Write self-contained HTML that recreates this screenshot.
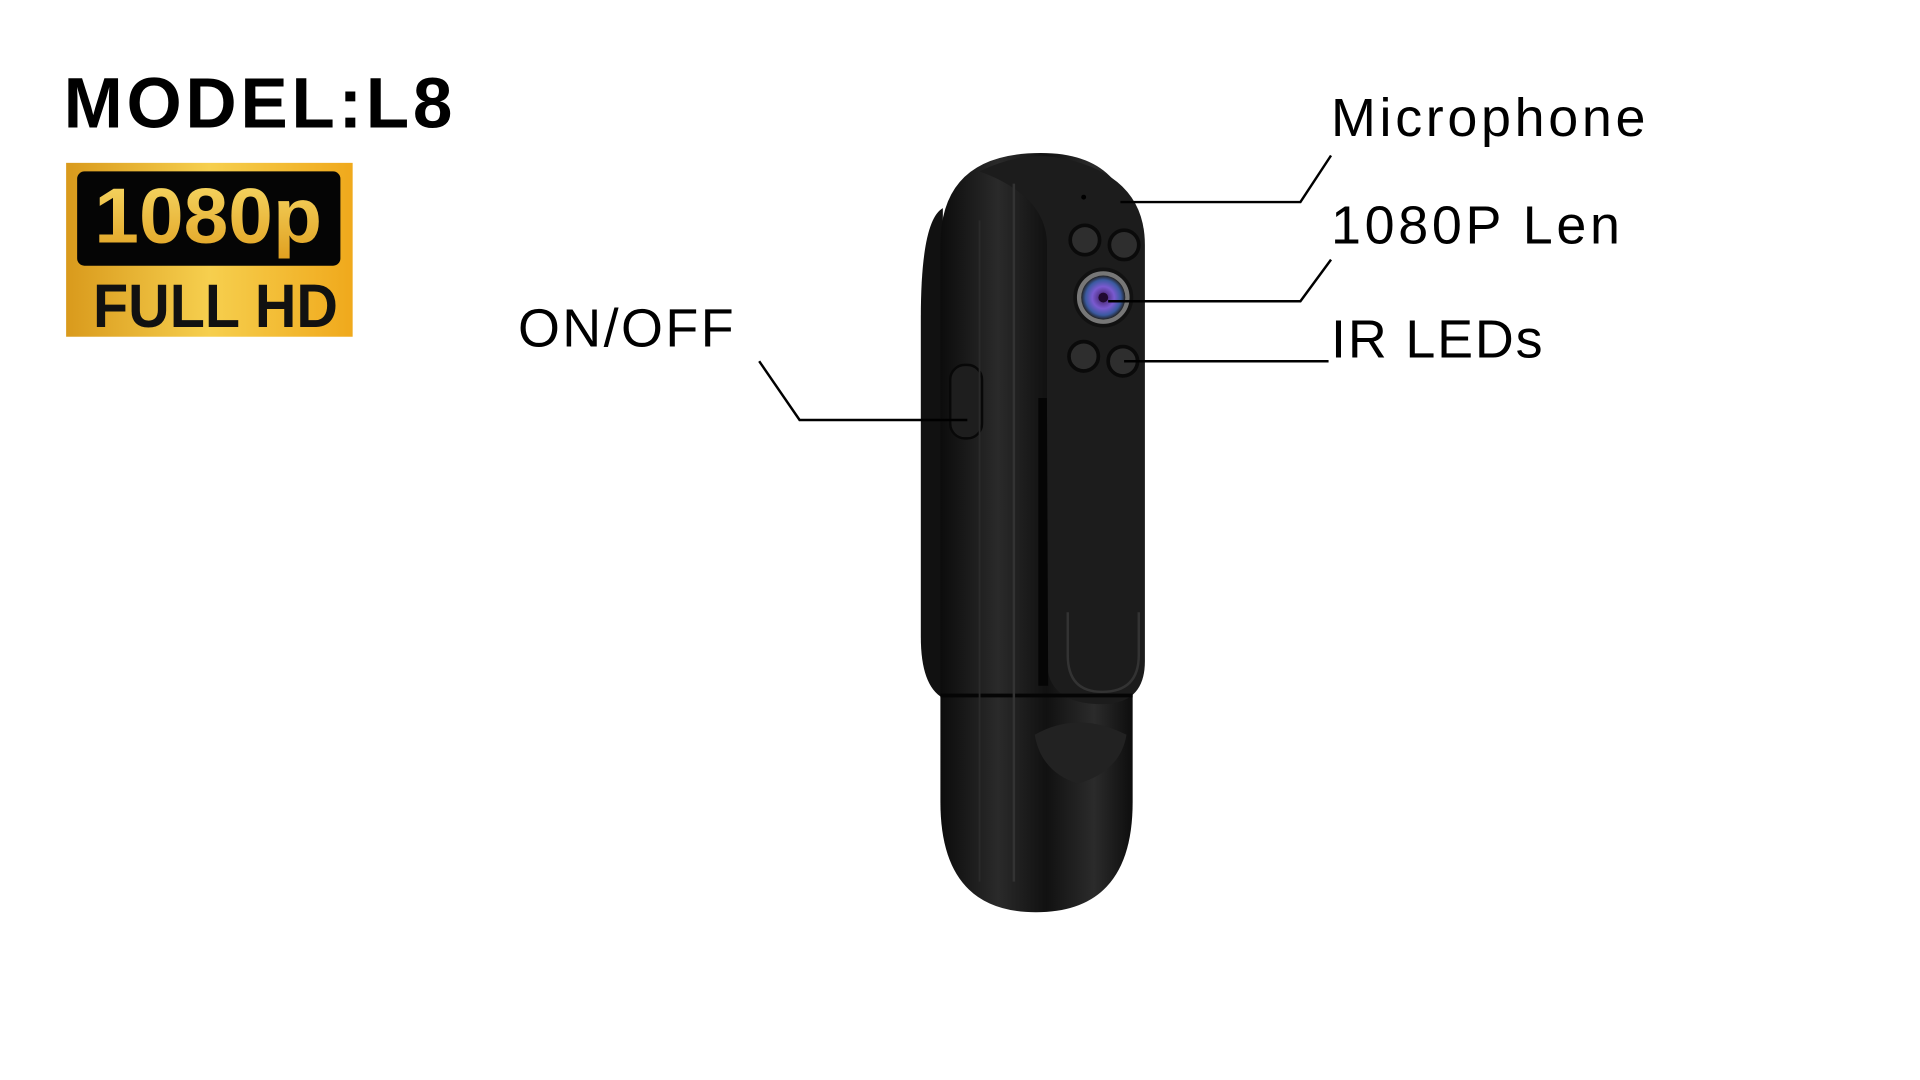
<!DOCTYPE html>
<html><head><meta charset="utf-8"><style>
html,body{margin:0;padding:0;background:#fff;width:1920px;height:1080px;overflow:hidden}
svg{display:block}
text{font-family:"Liberation Sans","DejaVu Sans",sans-serif}
</style></head><body>
<svg width="1920" height="1080" viewBox="0 0 1568 882" preserveAspectRatio="none">
<defs>
<linearGradient id="gold" x1="0" y1="0" x2="1" y2="0">
<stop offset="0" stop-color="#d99a1c"/><stop offset="0.5" stop-color="#f6cf4e"/><stop offset="1" stop-color="#f0a91c"/>
</linearGradient>
<linearGradient id="goldt" x1="0" y1="0" x2="0" y2="1">
<stop offset="0" stop-color="#f8dc6a"/><stop offset="1" stop-color="#e0a020"/>
</linearGradient>
<linearGradient id="body" x1="0" y1="0" x2="1" y2="0">
<stop offset="0" stop-color="#0c0c0c"/><stop offset="0.3" stop-color="#2a2a2a"/><stop offset="0.55" stop-color="#111"/><stop offset="0.8" stop-color="#2b2b2b"/><stop offset="1" stop-color="#0d0d0d"/>
</linearGradient>
<radialGradient id="lens" cx="0.5" cy="0.5" r="0.5">
<stop offset="0" stop-color="#3a1a5a"/><stop offset="0.5" stop-color="#7a5ad0"/><stop offset="0.8" stop-color="#3a5aa0"/><stop offset="1" stop-color="#222"/>
</radialGradient>
</defs>
<text x="52" y="104" font-size="58" font-weight="bold" letter-spacing="3" fill="#000">MODEL:L8</text>
<rect x="54" y="133" width="234" height="142" fill="url(#gold)"/>
<rect x="63" y="140" width="215" height="77" rx="6" fill="#050505"/>
<text x="170" y="198" font-size="64" font-weight="bold" fill="url(#goldt)" text-anchor="middle" textLength="186" lengthAdjust="spacingAndGlyphs">1080p</text>
<text x="176" y="267" font-size="50" font-weight="bold" fill="#111" text-anchor="middle" textLength="200" lengthAdjust="spacingAndGlyphs">FULL HD</text>
<path d="M770 170 Q752 180 752 260 L752 520 Q752 560 770 570 Z" fill="#111"/>
<path d="M768 200 Q768 125 850 125 Q925 125 925 200 L925 655 Q925 745 846 745 Q768 745 768 655 Z" fill="url(#body)"/>
<path d="M800 140 Q830 125 860 128 Q935 140 935 200 L935 540 Q935 575 900 575 Q855 575 855 540 L855 200 Q855 160 800 140Z" fill="#1c1c1c"/>
<path d="M855 325 L848 325 L848 560 L856 560Z" fill="#050505"/>
<path d="M872 500 L872 535 Q872 565 900 565 Q930 565 930 535 L930 500" stroke="#333" stroke-width="2" fill="none"/>
<line x1="768" y1="568" x2="925" y2="568" stroke="#050505" stroke-width="3"/>
<path d="M845 600 Q880 580 920 600 Q915 630 880 640 Q850 630 845 600Z" fill="#222"/>
<rect x="776" y="298" width="26" height="60" rx="12" fill="#1e1e1e" stroke="#080808" stroke-width="2"/>
<line x1="828" y1="150" x2="828" y2="720" stroke="#333" stroke-width="2"/>
<line x1="800" y1="180" x2="800" y2="720" stroke="#2a2a2a" stroke-width="1.5"/>
<circle cx="885" cy="161" r="2" fill="#000"/>
<circle cx="886" cy="196" r="12" fill="#2e2e2e" stroke="#0a0a0a" stroke-width="3"/>
<circle cx="918" cy="200" r="12" fill="#2e2e2e" stroke="#0a0a0a" stroke-width="3"/>
<circle cx="885" cy="291" r="12" fill="#2e2e2e" stroke="#0a0a0a" stroke-width="3"/>
<circle cx="917" cy="295" r="12" fill="#2e2e2e" stroke="#0a0a0a" stroke-width="3"/>
<circle cx="901" cy="243" r="23" fill="#777" stroke="#111" stroke-width="3"/>
<circle cx="901" cy="243" r="18" fill="url(#lens)"/>
<circle cx="901" cy="243" r="4" fill="#200a30"/>
<g stroke="#000" stroke-width="2" fill="none">
<polyline points="915,165 1062,165 1087,127"/>
<polyline points="905,246 1062,246 1087,212"/>
<polyline points="918,295 1085,295"/>
<polyline points="620,295 653,343 790,343"/>
</g>
<g font-size="44" fill="#000" letter-spacing="3">
<text x="1087" y="111">Microphone</text>
<text x="1087" y="199">1080P Len</text>
<text x="1087" y="292" letter-spacing="1.5">IR LEDs</text>
<text x="423" y="283" letter-spacing="2">ON/OFF</text>
</g>
</svg>
</body></html>
